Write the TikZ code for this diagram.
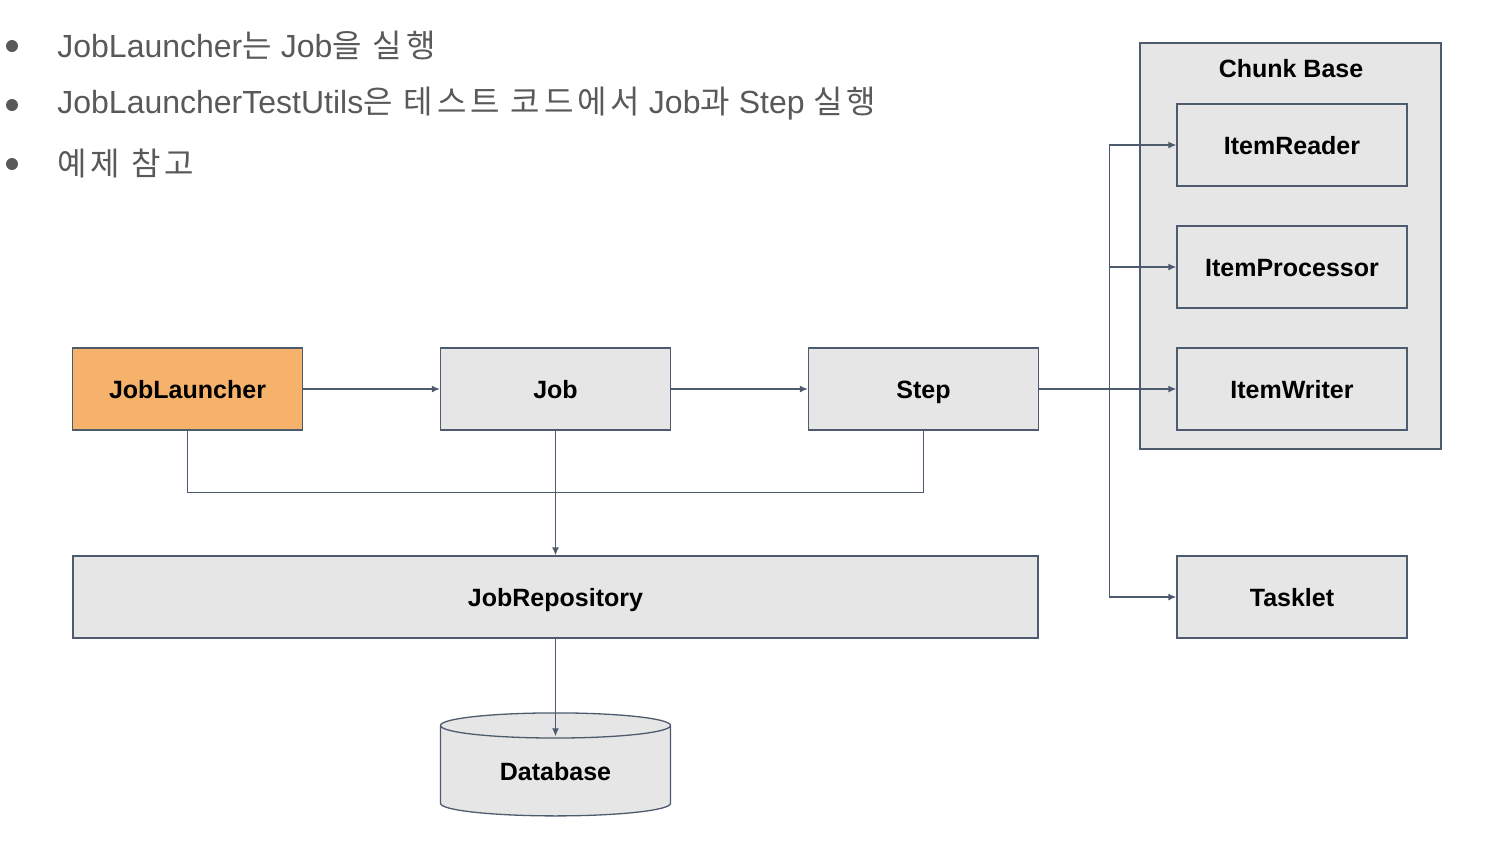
\documentclass[tikz,border=0pt]{standalone}
\usepackage{fontspec}
\setmainfont{Liberation Sans}
\newfontfamily\kr[LetterSpace=12]{Noto Sans CJK KR}
\usetikzlibrary{arrows.meta,shapes.geometric}
\definecolor{linec}{HTML}{4E5B6E}
\definecolor{boxfill}{HTML}{E6E6E6}
\definecolor{orangefill}{HTML}{F6B26B}
\definecolor{textgray}{HTML}{595959}
\begin{document}
\begin{tikzpicture}[x=0.5pt, y=-0.5pt,
    box/.style={draw=linec, line width=0.65pt, fill=boxfill, minimum width=115pt,
        minimum height=41pt, inner sep=0pt, text height=12pt, text depth=3pt,
        font=\fontsize{12.5}{14}\selectfont\bfseries},
    arr/.style={draw=linec, line width=0.65pt, -{Latex[length=4pt,width=3.5pt]}},
    link/.style={draw=linec, line width=0.65pt},
    bullet/.style={circle, fill=textgray, inner sep=0pt, minimum size=6pt},
    item/.style={anchor=west, inner sep=0pt, text=textgray, font=\fontsize{16}{18}\selectfont}]
        \useasboundingbox (0, 0) rectangle (1496, 842);

        % bullet list
        \node[bullet] (b1) at (12, 46) {};
        \node[bullet] (b2) at (12, 105) {};
        \node[bullet] (b3) at (12, 164) {};
        \node[item] (t1) at (57, 45) {JobLauncher{\kr 는} Job{\kr 을 실행}};
        \node[item] (t2) at (57, 104) {JobLauncherTestUtils{\kr 은 테스트 코드에서} Job{\kr 과} Step {\kr 실행}};
        \node[item] (t3) at (57, 163) {\kr 예제 참고};

        % chunk container
        \node[box, minimum width=150.5pt, minimum height=203pt] (chunk) at (1290.5, 246) {};
        \node[font=\fontsize{12.5}{14}\selectfont\bfseries] (chunklabel) at (1291, 69) {Chunk Base};

        \node[box, fill=orangefill] (launcher) at (187.5, 389) {JobLauncher};
        \node[box] (job) at (555.5, 389) {Job};
        \node[box] (step) at (923.5, 389) {Step};
        \node[box, minimum width=482.5pt] (repo) at (555.5, 597) {JobRepository};
        \node[box, cylinder, shape border rotate=90, aspect=0.226, minimum width=115pt,
            minimum height=51.5pt] (db) at (555.5, 771) {Database};

        \node[box] (reader) at (1292, 145) {ItemReader};
        \node[box] (proc) at (1292, 267) {ItemProcessor};
        \node[box] (writer) at (1292, 389) {ItemWriter};
        \node[box] (tasklet) at (1292, 597) {Tasklet};

        \draw[arr] (launcher) -- (job);
        \draw[arr] (job) -- (step);
        \draw[link] (launcher.south) -- ++(0, 62) -| (step.south);
        \draw[arr] (job.south) -- (repo.north);
        \draw[arr, shorten >=-12pt] (repo.south) -- (db.top);

        \draw[arr] (step.east) -- (writer.west);
        \draw[arr] (step.east) -- ++(70, 0) |- (reader.west);
        \draw[arr] (step.east) -- ++(70, 0) |- (proc.west);
        \draw[arr] (step.east) -- ++(70, 0) |- (tasklet.west);
    \end{tikzpicture}
\end{document}
